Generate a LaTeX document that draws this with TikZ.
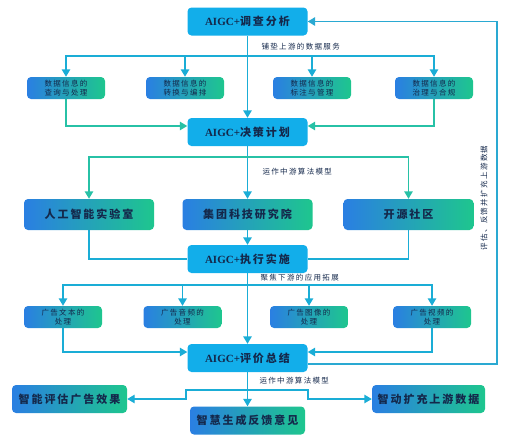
\documentclass[tikz,border=0pt]{standalone}
\usepackage{fontspec}
\setmainfont[LetterSpace=18]{Noto Sans CJK SC}
\newfontfamily\latinfont{Liberation Serif}
\usetikzlibrary{arrows.meta}
\definecolor{boxcyan}{HTML}{12AEEA}
\definecolor{gradblue}{HTML}{2A7FE2}
\definecolor{gradgreen}{HTML}{1EC68E}
\definecolor{inkblue}{HTML}{14284B}
\definecolor{linecyan}{HTML}{1AADD6}
\definecolor{linegreen}{HTML}{27C1A6}
\definecolor{linefb}{HTML}{2AA9D2}
\newcommand{\aigc}{{\latinfont\bfseries AIGC+}}
\begin{document}
\begin{tikzpicture}[x=1pt, y=-1pt,
    mainbox/.style={rounded corners=4pt, fill=boxcyan, text=inkblue, font=\fontsize{11}{13}\selectfont\bfseries,
        minimum width=120pt, minimum height=28pt, inner sep=0pt},
    gradbox/.style={rounded corners=4pt, left color=gradblue, right color=gradgreen, text=inkblue,
        inner sep=0pt, align=center},
    smallbox/.style={gradbox, minimum width=78pt, minimum height=22pt, font=\fontsize{7.5}{9.5}\selectfont},
    midbox/.style={gradbox, minimum width=130pt, minimum height=31pt, font=\fontsize{11}{13}\selectfont\bfseries},
    endbox/.style={gradbox, minimum width=115pt, minimum height=28pt, font=\fontsize{11}{13}\selectfont\bfseries},
    steplabel/.style={anchor=west, text=inkblue, font=\fontsize{7.5}{9}\selectfont},
    tip/.style={-{Triangle[width=8.5pt,length=7.5pt]}},
    trunk/.style={tip, draw=linecyan, line width=1.4pt},
    branch/.style={tip, draw=linegreen, line width=1.4pt},
    cyanbranch/.style={tip, draw=linecyan, line width=1.4pt}
]
    \useasboundingbox (0,0) rectangle (516,442);
    % main stages
    \node[mainbox] (survey) at (247.5,21.5) {\aigc 调查分析};
    \node[mainbox] (plan) at (247.5,132) {\aigc 决策计划};
    \node[mainbox] (exec) at (247.5,259) {\aigc 执行实施};
    \node[mainbox] (review) at (247.5,358) {\aigc 评价总结};
    % upstream data services
    \node[smallbox] (data1) at (66,88) {数据信息的\\查询与处理};
    \node[smallbox] (data2) at (185,88) {数据信息的\\转换与编排};
    \node[smallbox] (data3) at (312,88) {数据信息的\\标注与管理};
    \node[smallbox] (data4) at (434,88) {数据信息的\\治理与合规};
    % midstream algorithm models
    \node[midbox] (lab) at (89,214.5) {人工智能实验室};
    \node[midbox] (inst) at (247.5,214.5) {集团科技研究院};
    \node[midbox] (oss) at (408.5,214.5) {开源社区};
    % downstream applications
    \node[smallbox] (ad1) at (63,317) {广告文本的\\处理};
    \node[smallbox] (ad2) at (182.5,317) {广告音频的\\处理};
    \node[smallbox] (ad3) at (309,317) {广告图像的\\处理};
    \node[smallbox] (ad4) at (432,317) {广告视频的\\处理};
    % outcomes
    \node[endbox] (evalad) at (69.5,399) {智能评估广告效果};
    \node[endbox] (feedback) at (247.5,420.5) {智慧生成反馈意见};
    \node[endbox, minimum width=113pt] (expand) at (428.5,399) {智动扩充上游数据};
    % labels
    \node[steplabel] (lbl1) at (258,47) {铺垫上游的数据服务};
    \node[steplabel] (lbl2) at (259,172) {运作中游算法模型};
    \node[steplabel] (lbl3) at (257,278) {聚焦下游的应用拓展};
    \node[steplabel] (lbl4) at (256,381) {运作中游算法模型};
    \node[text=inkblue, font=\fontsize{7.5}{9}\selectfont, rotate=90] (lblfb) at (484,198) {评估、反馈并扩充上游数据};
    % junctions
    \coordinate (split1) at (247.5,56);
    \coordinate (split2) at (247.5,157);
    \coordinate (split3) at (247.5,285);
    \coordinate (split4) at (247.5,390);
    \coordinate (left4) at (186,390);
    \coordinate (right4) at (308,390);
    \coordinate (fbcorner) at (497,364);
    % trunk
    \draw[trunk] (survey) -- (plan);
    \draw[trunk] (plan) -- (inst);
    \draw[trunk] (inst) -- (exec);
    \draw[trunk] (exec) -- (review);
    \draw[trunk] (review) -- (feedback);
    % upstream
    \foreach \d in {data1,data2,data3,data4}
        \draw[cyanbranch] (split1) -| (\d.north);
    \draw[branch] (data1.south) |- ([yshift=6pt]plan.west);
    \draw[branch] (data4.south) |- ([yshift=6pt]plan.east);
    % midstream
    \draw[branch] (split2) -| (lab.north);
    \draw[branch] (split2) -| (oss.north);
    \draw[draw=linecyan, line width=1.4pt] (lab.south) |- (exec.west);
    \draw[draw=linecyan, line width=1.4pt] (oss.south) |- (exec.east);
    % downstream
    \foreach \a in {ad1,ad2,ad3,ad4}
        \draw[cyanbranch] (split3) -| (\a.north);
    \draw[cyanbranch] (ad1.south) |- ([yshift=6pt]review.west);
    \draw[cyanbranch] (ad4.south) |- ([yshift=6pt]review.east);
    % outcomes
    \draw[cyanbranch] (split4) -- (left4) |- (evalad.east);
    \draw[cyanbranch] (split4) -- (right4) |- (expand.west);
    % feedback loop
    \draw[tip, draw=linefb, line width=1.6pt] ([yshift=-6pt]review.east) -- (fbcorner) |- (survey.east);
\end{tikzpicture}
\end{document}
